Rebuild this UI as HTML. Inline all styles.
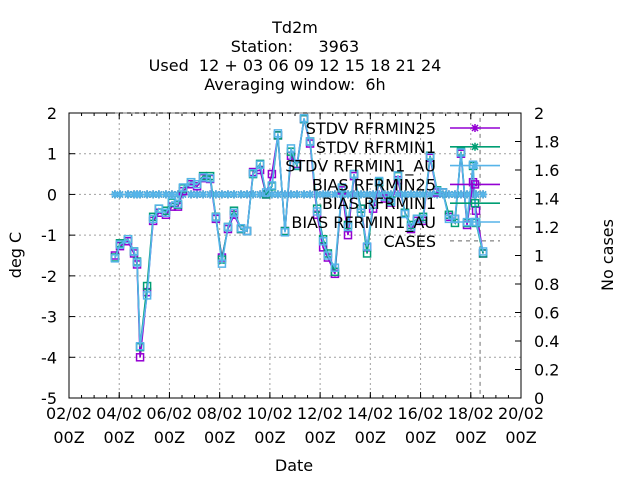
<!DOCTYPE html>
<html><head><meta charset="utf-8"><style>
html,body{margin:0;padding:0;background:#fff}
svg{display:block;font-family:"DejaVu Sans","Liberation Sans",sans-serif}
</style></head><body>
<svg id="chart" width="640" height="480" viewBox="0 0 640 480">
<g font-size="16" text-anchor="middle" fill="#000">
<text x="295" y="33">Td2m</text>
<text x="295" y="52" xml:space="preserve">Station:     3963</text>
<text x="295" y="71" xml:space="preserve">Used  12 + 03 06 09 12 15 18 21 24</text>
<text x="295" y="90" xml:space="preserve">Averaging window:  6h</text>
</g>
<text x="21" y="255" font-size="16" text-anchor="middle" transform="rotate(-90 21 255)">deg C</text>
<text x="613" y="255" font-size="16" text-anchor="middle" transform="rotate(-90 613 255)">No cases</text>
<text x="294" y="471" font-size="16" text-anchor="middle">Date</text>
<g id="grid"></g>
<g id="axes"></g>
<g id="series"></g>
<g id="legend"></g>
</svg>
<script>
const xTickLabels = ["02/02","04/02","06/02","08/02","10/02","12/02","14/02","16/02","18/02","20/02"];
const xTickDays = [2,4,6,8,10,12,14,16,18,20];
const yTicks = [-5,-4,-3,-2,-1,0,1,2];
const y2Ticks = [0,0.2,0.4,0.6,0.8,1,1.2,1.4,1.6,1.8,2];
const days = [3.83,4.03,4.35,4.59,4.71,4.83,5.11,5.35,5.58,5.86,6.10,6.34,6.54,6.86,7.10,7.34,7.62,7.85,8.09,8.33,8.57,8.85,9.09,9.33,9.61,9.85,10.08,10.32,10.60,10.84,11.08,11.36,11.60,11.88,12.12,12.31,12.59,12.87,13.11,13.35,13.63,13.87,14.11,14.35,14.58,14.82,15.10,15.38,15.62,15.86,16.10,16.38,16.66,16.89,17.13,17.37,17.61,17.85,18.09,18.21,18.49];
const biasAU = [-1.57,-1.23,-1.1,-1.4,-1.67,-3.73,-2.48,-0.6,-0.35,-0.45,-0.18,-0.23,0.17,0.3,0.25,0.42,0.4,-0.56,-1.7,-0.8,-0.45,-0.83,-0.9,0.52,0.73,0.05,0.22,1.5,-0.93,1.13,0.72,1.87,1.3,-0.42,-1.15,-1.5,-1.8,0.17,-0.8,0.5,-0.45,-1.28,-0.25,0.33,-0.05,-0.18,0.47,-0.48,-0.8,-0.6,-0.6,0.93,0.08,0.05,-0.6,-0.6,1.03,-0.68,0.73,-0.68,-1.4];
const bias25 = [-1.5,-1.27,-1.15,-1.45,-1.72,-4.0,-2.4,-0.65,-0.45,-0.5,-0.3,-0.3,0.08,0.25,0.2,0.4,0.38,-0.6,-1.55,-0.85,-0.5,-0.85,-0.9,0.55,0.6,0.0,0.5,1.45,-0.9,0.95,0.75,1.85,1.25,-0.5,-1.3,-1.55,-1.95,0.1,-1.0,0.45,-0.35,-1.3,-0.35,0.3,-0.1,-0.2,0.35,-0.45,-0.85,-0.65,-0.65,0.9,0.05,0.05,-0.55,-0.6,1.0,-0.75,0.3,-0.4,-1.45];
const bias1 = [-1.55,-1.2,-1.1,-1.4,-1.65,-3.75,-2.25,-0.55,-0.35,-0.4,-0.2,-0.25,0.15,0.3,0.25,0.45,0.45,-0.55,-1.6,-0.8,-0.4,-0.85,-0.9,0.5,0.75,0.0,0.2,1.45,-0.9,1.05,0.7,1.85,1.3,-0.35,-1.1,-1.45,-1.9,0.15,-0.75,0.5,-0.35,-1.45,-0.25,0.3,-0.05,-0.15,0.45,-0.45,-0.75,-0.6,-0.55,0.95,0.1,0.05,-0.5,-0.7,1.05,-0.7,0.7,-0.7,-1.45];
const stdv = days.map(()=>0);
const cases = days.map(()=>2);

const L=69,R=521,T=113,B=398;
const xs=d=>L+(d-2)/18*(R-L);
const ys=v=>B-(v+5)/7*(B-T);
const y2s=v=>B-v/2*(B-T);
const NS="http://www.w3.org/2000/svg";
function mk(tag,attrs,parent){const e=document.createElementNS(NS,tag);for(const k in attrs)e.setAttribute(k,attrs[k]);parent.appendChild(e);return e;}
const grid=document.getElementById('grid'),axes=document.getElementById('axes'),series=document.getElementById('series'),legend=document.getElementById('legend');

xTickDays.forEach((d,i)=>{
  const x=xs(d);
  if(i>0&&i<xTickDays.length-1){const g=mk('line',{x1:x,y1:T,x2:x,y2:B,stroke:'#a0a0a0','stroke-dasharray':'2,3'},grid);
  
  }
  mk('line',{x1:x,y1:B,x2:x,y2:B-6,stroke:'#000'},axes);
  mk('line',{x1:x,y1:T,x2:x,y2:T+6,stroke:'#000'},axes);
  const t=mk('text',{x:x,y:419,'font-size':16,'text-anchor':'middle'},axes);t.textContent=xTickLabels[i];
  
  
  const t2=mk('text',{x:x,y:443,'font-size':16,'text-anchor':'middle'},axes);t2.textContent='00Z';
  
  
});
for(let d=2;d<=20;d+=0.5){const x=xs(d);mk('line',{x1:x,y1:B,x2:x,y2:B-3,stroke:'#000'},axes);mk('line',{x1:x,y1:T,x2:x,y2:T+3,stroke:'#000'},axes);}
yTicks.forEach(v=>{
  const y=ys(v);
  if(v>-5&&v<2){const g=mk('line',{x1:L,y1:y,x2:R,y2:y,stroke:'#a0a0a0','stroke-dasharray':'2,3'},grid);
  
  }
  mk('line',{x1:L,y1:y,x2:L+6,y2:y,stroke:'#000'},axes);
  const t=mk('text',{x:57,y:y+6,'font-size':16,'text-anchor':'end'},axes);t.textContent=v;
  
  
});
y2Ticks.forEach(v=>{
  const y=y2s(v);
  mk('line',{x1:R,y1:y,x2:R-6,y2:y,stroke:'#000'},axes);
  const t=mk('text',{x:534,y:y+6,'font-size':16,'text-anchor':'start'},axes);t.textContent=(Math.round(v*10)/10).toString();
  
  
});
const frame=mk('rect',{x:L,y:T,width:R-L,height:B-T,fill:'none',stroke:'#000'},axes);



function line(vals,scale,color,name,marker,dash){
  const g=mk('g',{},series);
  
  
  const pts=vals.map((v,i)=>xs(days[i]).toFixed(1)+','+scale(v).toFixed(1)).join(' ');
  const a={points:pts,fill:'none',stroke:color,'stroke-width':dash?1.5:1.6};if(dash)a['stroke-dasharray']='4,4';
  mk('polyline',a,g);
  if(marker)vals.forEach((v,i)=>drawMarker(g,xs(days[i]),scale(v),color,marker));
}
function drawMarker(g,x,y,c,m){
  if(m==='sq')mk('rect',{x:x-3.5,y:y-3.5,width:7,height:7,fill:'none',stroke:c,'stroke-width':1.5},g);
  else{mk('path',{d:`M${x-4},${y}h8M${x},${y-4}v8M${x-3},${y-3}l6,6M${x-3},${y+3}l6,-6`,stroke:c,'stroke-width':1.5},g);}
}
const C25='#9400d3',C1='#009e73',CAU='#56b4e9';
const cg=mk('g',{},series);


mk('polyline',{points:days.map((d,i)=>xs(d).toFixed(1)+','+y2s(cases[i]).toFixed(1)).join(' ')+` ${(xs(days[days.length-1])-3).toFixed(1)},${y2s(2)} ${(xs(days[days.length-1])-3).toFixed(1)},${B}`,fill:'none',stroke:'#a0a0a0','stroke-width':1.5,'stroke-dasharray':'4,4'},cg);
line(stdv,ys,C25,'stdv-rfrmin25','star');
line(stdv,ys,C1,'stdv-rfrmin1','star');
line(stdv,ys,CAU,'stdv-rfrmin1-au','star');
line(bias25,ys,C25,'bias-rfrmin25','sq');
line(bias1,ys,C1,'bias-rfrmin1','sq');
line(biasAU,ys,CAU,'bias-rfrmin1-au','sq');

const legNames=['STDV RFRMIN25','STDV RFRMIN1','STDV RFRMIN1_AU','BIAS RFRMIN25','BIAS RFRMIN1','BIAS RFRMIN1_AU','CASES'];
const legColors=[C25,C1,CAU,C25,C1,CAU,'#a0a0a0'];
const legMarkers=['star','star','star','sq','sq','sq',null];
legNames.forEach((n,i)=>{
  const y=128+i*18.8;
  const g=mk('g',{},legend);
  
  
  const t=mk('text',{x:436,y:y+6,'font-size':16,'text-anchor':'end'},g);t.textContent=n;
  const a={x1:450,y1:y,x2:500,y2:y,stroke:legColors[i],'stroke-width':1.6};if(i===6)a['stroke-dasharray']='4,4';
  mk('line',a,g);
  if(legMarkers[i])drawMarker(g,475,y,legColors[i],legMarkers[i]);
});
</script>
</body></html>
